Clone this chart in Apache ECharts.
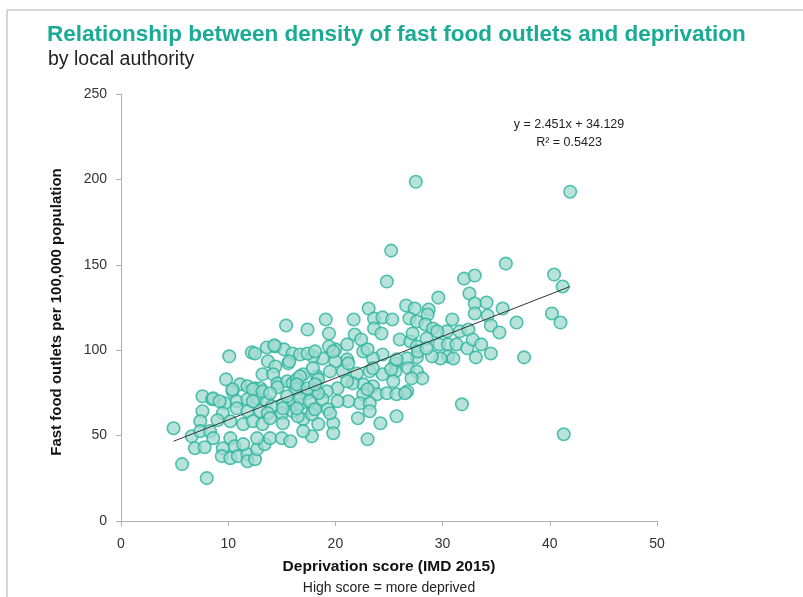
<!DOCTYPE html>
<html>
<head>
<meta charset="utf-8">
<script src="https://cdn.jsdelivr.net/npm/echarts@6/dist/echarts.min.js"></script>
<style>
html,body{margin:0;padding:0;background:#fff;}
#chart{width:803px;height:597px;}
</style>
</head>
<body>
<div id="chart"></div>
<script>
// deprivation score (x) and fast food outlets per 100k (y)
var deprivation = [
	10.1,12.2,12.5,13.6,14.4,15.2,16.0,13.7,14.4,15.6,13.2,14.2,14.6,15.5,16.0,9.8,11.1,11.8,12.5,13.0,
	10.4,7.6,8.5,9.7,10.8,11.8,12.7,13.6,14.1,15.1,16.0,7.6,9.5,10.8,11.8,13.0,13.7,15.0,16.0,7.4,
	9.0,10.2,11.4,12.3,13.2,13.9,15.1,4.9,6.6,7.4,8.3,8.6,10.2,10.6,9.5,9.4,10.2,10.9,11.8,11.8,
	12.5,11.4,12.7,13.4,13.9,12.7,15.0,15.8,6.9,7.8,5.7,8.0,15.4,10.4,8.6,14.6,12.3,13.2,13.9,12.3,9.2,
	25.2,24.8,32.0,33.0,29.6,32.5,33.0,33.0,26.6,27.4,28.7,28.6,23.1,21.7,19.1,17.4,23.6,24.4,25.3,23.6,
	24.3,26.9,27.6,28.4,29.1,30.9,30.4,31.6,32.4,19.4,21.8,21.1,20.0,22.4,26.0,27.0,27.6,28.5,29.5,29.7,
	30.5,31.3,32.3,32.8,30.5,29.8,29.0,31.0,33.1,27.6,26.7,25.6,24.4,23.5,22.6,21.1,20.0,18.8,17.9,16.7,
	26.8,27.6,28.1,27.1,25.6,24.4,23.2,22.0,20.7,19.5,18.3,17.0,25.4,23.5,22.6,21.6,20.2,19.2,17.9,16.7,
	22.6,23.9,24.8,26.7,22.3,23.2,21.2,20.2,18.8,19.3,17.9,16.7,31.8,25.7,23.2,22.1,24.2,19.8,18.4,17.0,
	23.0,19.8,17.8,17.0,19.5,17.8,16.5,
	19.4,21.2,17.9,23.5,25.2,16.4,18.4,21.1,23.0,25.7,26.5,16.3,17.4,18.4,17.4,19.8,23.0,25.7,27.7,28.5,
	27.2,18.1,15.7,16.7,16.4,17.4,18.1,15.5,16.7,17.6,18.1,16.4,15.1,14.3,
	35.9,40.4,41.2,34.1,34.2,35.6,34.5,35.3,36.9,40.2,41.0,33.6,34.5,37.6,41.3,27.5,41.9
];
var outlets = [
	96.4,98.7,98.1,101.6,102.2,100.5,98.1,93.5,90.5,92.3,85.9,85.9,80.6,81.8,80.6,82.9,80.0,78.9,77.7,77.7,
	75.9,73.0,71.3,68.9,70.1,71.3,71.8,70.1,67.2,68.3,68.9,64.3,63.1,66.0,64.3,64.3,63.1,63.1,64.3,58.4,
	59.0,58.4,56.7,58.4,56.7,60.2,57.2,54.3,49.6,52.6,52.6,48.5,48.5,43.8,42.6,38.0,36.8,38.0,39.1,35.0,
	36.2,45.0,42.1,45.0,48.5,48.5,48.5,46.7,42.6,43.2,33.3,25.1,114.5,77.1,71.8,78.3,77.1,75.9,74.8,70.1,70.1,
	158.3,140.2,141.9,143.7,130.8,133.2,127.3,121.5,126.2,124.4,123.8,120.9,124.4,118.0,118.0,112.1,118.6,119.2,118.0,112.7,
	109.8,118.6,116.8,115.1,112.7,118.0,111.0,111.0,112.1,109.8,109.2,103.4,100.5,106.3,106.3,105.1,102.2,106.9,111.0,103.4,
	103.4,103.4,101.1,106.3,96.4,95.2,96.4,95.2,95.8,95.8,95.2,92.3,97.5,95.2,99.3,94.6,93.5,95.2,96.4,97.5,
	89.4,87.6,83.5,83.5,87.6,85.9,87.6,86.4,87.6,87.6,84.7,85.9,81.8,78.9,80.0,80.6,77.7,75.9,75.9,77.1,
	74.2,74.2,74.8,75.9,68.9,68.9,70.1,70.1,71.3,65.4,65.4,68.3,68.3,61.3,64.3,60.2,57.2,57.2,56.7,59.6,
	47.9,51.4,49.6,52.6,63.1,62.5,61.3,
	102.2,92.3,89.4,89.4,88.8,82.9,82.9,81.8,77.1,74.2,74.8,77.1,74.8,74.8,98.1,99.3,100.5,94.6,99.3,101.1,
	109.8,99.3,93.5,84.7,80.0,77.7,80.0,73.0,71.8,70.1,65.4,66.0,66.0,102.8,
	150.7,144.3,137.3,127.9,120.3,124.4,114.5,110.4,116.2,121.5,116.2,103.4,98.1,95.8,50.8,198.6,192.8
];
// linear trendline ends, as drawn
var trendX = [4.9, 41.9];
var trendY = [46.7, 137.3];
var xTicks = [0, 10, 20, 30, 40, 50];
var yTicks = [0, 50, 100, 150, 200, 250];

var points = [];
for (var i = 0; i < deprivation.length; i++) {
	points.push([deprivation[i], outlets[i]]);
}
var trend = [];
for (var t = 0; t < trendX.length; t++) {
	trend.push([trendX[t], trendY[t]]);
}

var labelFont = "'Liberation Sans', Arial, sans-serif";
var chart = echarts.init(document.getElementById('chart'));
var option = {
	animation: false,
	backgroundColor: '#fff',
	grid: {left: 121, right: 146, top: 94, bottom: 76},
	title: [
		{
			text: 'Relationship between density of fast food outlets and deprivation',
			left: 42, top: 18,
			textStyle: {color: '#1aab94', fontSize: 22.5, fontWeight: 'bold', fontFamily: labelFont}
		},
		{
			text: 'by local authority',
			left: 43, top: 45,
			textStyle: {color: '#222', fontSize: 19.5, fontWeight: 'normal', fontFamily: labelFont}
		}
	],
	graphic: [
		{type: 'line', shape: {x1: 7, y1: 10, x2: 803, y2: 10}, style: {stroke: '#c9c9c9', lineWidth: 1.5}},
		{type: 'line', shape: {x1: 7, y1: 10, x2: 7, y2: 597}, style: {stroke: '#c9c9c9', lineWidth: 1.5}},
		{type: 'text', x: 569, y: 125, style: {text: 'y = 2.451x + 34.129', textAlign: 'center', textVerticalAlign: 'middle', font: '12.5px ' + labelFont, fill: '#222'}},
		{type: 'text', x: 569, y: 143, style: {text: 'R² = 0.5423', textAlign: 'center', textVerticalAlign: 'middle', font: '12.5px ' + labelFont, fill: '#222'}},
		{type: 'text', x: 389, y: 567, style: {text: 'Deprivation score (IMD 2015)', textAlign: 'center', textVerticalAlign: 'middle', font: 'bold 15.5px ' + labelFont, fill: '#111'}},
		{type: 'text', x: 389, y: 588, style: {text: 'High score = more deprived', textAlign: 'center', textVerticalAlign: 'middle', font: '14px ' + labelFont, fill: '#222'}},
		{type: 'text', x: 57, y: 312, rotation: Math.PI / 2, style: {text: 'Fast food outlets per 100,000 population', textAlign: 'center', textVerticalAlign: 'middle', font: 'bold 15px ' + labelFont, fill: '#111'}}
	],
	xAxis: {
		type: 'value', min: xTicks[0], max: xTicks[xTicks.length - 1], interval: 10,
		splitLine: {show: false},
		axisLine: {show: true, lineStyle: {color: '#b0b0b0'}},
		axisTick: {show: true, length: 5, lineStyle: {color: '#b0b0b0'}},
		axisLabel: {color: '#333', fontSize: 14, margin: 16, fontFamily: labelFont}
	},
	yAxis: {
		type: 'value', min: yTicks[0], max: yTicks[yTicks.length - 1], interval: 50,
		splitLine: {show: false},
		axisLine: {show: true, lineStyle: {color: '#b0b0b0'}},
		axisTick: {show: true, length: 5, lineStyle: {color: '#b0b0b0'}},
		axisLabel: {color: '#333', fontSize: 14, margin: 14, fontFamily: labelFont}
	},
	series: [
		{
			type: 'scatter',
			data: points,
			symbolSize: 12.5,
			itemStyle: {color: 'rgba(160,218,206,0.95)', borderColor: '#2ab39d', borderWidth: 1.6}
		},
		{
			type: 'line',
			data: trend,
			symbol: 'none',
			z: 5,
			lineStyle: {color: '#333', width: 1}
		}
	]
};
chart.setOption(option);
</script>
</body>
</html>
